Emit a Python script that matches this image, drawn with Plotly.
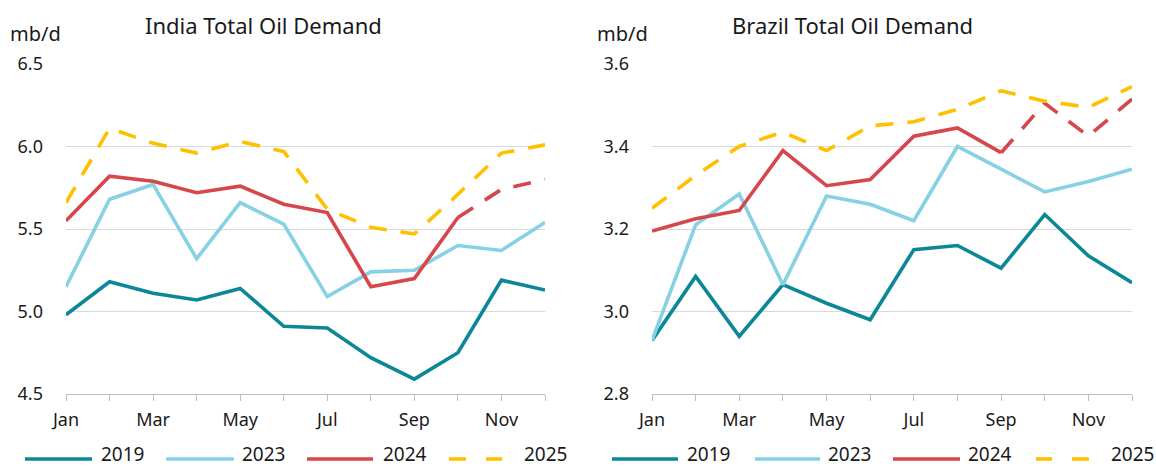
import plotly.graph_objects as go

W, H = 1156, 468

months = ["Jan", "Feb", "Mar", "Apr", "May", "Jun", "Jul", "Aug", "Sep", "Oct", "Nov", "Dec"]
years = ["2019", "2023", "2024", "2025"]

india_2019 = [4.98, 5.18, 5.11, 5.07, 5.14, 4.91, 4.90, 4.72, 4.59, 4.75, 5.19, 5.13]
india_2023 = [5.15, 5.68, 5.77, 5.32, 5.66, 5.53, 5.09, 5.24, 5.25, 5.40, 5.37, 5.54]
india_2024 = [5.55, 5.82, 5.79, 5.72, 5.76, 5.65, 5.60, 5.15, 5.20, 5.57, 5.74, 5.80]
india_2025 = [5.66, 6.11, 6.02, 5.96, 6.03, 5.97, 5.62, 5.51, 5.47, 5.71, 5.96, 6.01]
india_2024_dash_from = 9  # index of first forecast month (Oct)

brazil_2019 = [2.93, 3.085, 2.94, 3.065, 3.02, 2.98, 3.15, 3.16, 3.105, 3.235, 3.135, 3.07]
brazil_2023 = [2.93, 3.21, 3.285, 3.065, 3.28, 3.26, 3.22, 3.40, 3.345, 3.29, 3.315, 3.345]
brazil_2024 = [3.195, 3.225, 3.245, 3.39, 3.305, 3.32, 3.425, 3.445, 3.385, 3.505, 3.425, 3.515]
brazil_2025 = [3.25, 3.33, 3.40, 3.435, 3.39, 3.45, 3.46, 3.49, 3.535, 3.51, 3.495, 3.545]
brazil_2024_dash_from = 8  # Sep

india_yticks = [4.5, 5.0, 5.5, 6.0, 6.5]
brazil_yticks = [2.8, 3.0, 3.2, 3.4, 3.6]

titles = ["India Total Oil Demand", "Brazil Total Oil Demand"]
unit = "mb/d"

colors = {"2019": "#0B8797", "2023": "#86D1E4", "2024": "#D6474B", "2025": "#FFC000"}
FONT = "Noto Sans"
TXT = "#1a1a1a"
DASH = "18px,14px"
LW = 3.6

x_idx = list(range(len(months)))
tickvals = x_idx
ticktext = [m if i % 2 == 0 else "" for i, m in enumerate(months)]


def px(x):
    return x / W


def py(y):
    return 1 - y / H


fig = go.Figure()


def add_panel(n, s2019, s2023, s2024, s2025, dash_from):
    xa = "x" if n == 1 else "x2"
    ya = "y" if n == 1 else "y2"
    fig.add_trace(go.Scatter(x=x_idx, y=s2019, mode="lines", line=dict(color=colors["2019"], width=LW),
                             xaxis=xa, yaxis=ya, showlegend=False))
    fig.add_trace(go.Scatter(x=x_idx, y=s2023, mode="lines", line=dict(color=colors["2023"], width=LW),
                             xaxis=xa, yaxis=ya, showlegend=False))
    solid = [v if i <= dash_from else None for i, v in enumerate(s2024)]
    dashed = [v if i >= dash_from else None for i, v in enumerate(s2024)]
    fig.add_trace(go.Scatter(x=x_idx, y=solid, mode="lines", line=dict(color=colors["2024"], width=LW),
                             xaxis=xa, yaxis=ya, showlegend=False))
    fig.add_trace(go.Scatter(x=x_idx, y=dashed, mode="lines",
                             line=dict(color=colors["2024"], width=LW, dash=DASH),
                             xaxis=xa, yaxis=ya, showlegend=False))
    fig.add_trace(go.Scatter(x=x_idx, y=s2025, mode="lines",
                             line=dict(color=colors["2025"], width=LW, dash=DASH),
                             xaxis=xa, yaxis=ya, showlegend=False))


add_panel(1, india_2019, india_2023, india_2024, india_2025, india_2024_dash_from)
add_panel(2, brazil_2019, brazil_2023, brazil_2024, brazil_2025, brazil_2024_dash_from)

xcommon = dict(range=[0, 11], tickvals=tickvals, ticktext=ticktext, ticks="outside", ticklen=6,
               tickcolor="#BFBFBF", tickwidth=1, showline=True, linecolor="#BFBFBF", linewidth=1,
               showgrid=False, zeroline=False, tickfont=dict(family=FONT, size=18, color=TXT),
               ticklabelstandoff=3, fixedrange=True, automargin=False)
ycommon = dict(showgrid=True, gridcolor="#D9D9D9", gridwidth=1, zeroline=False, showline=False,
               ticks="", tickfont=dict(family=FONT, size=18, color=TXT), ticklabelstandoff=22,
               tickformat=".1f", fixedrange=True, automargin=False)

ydom = [py(394), py(64)]
fig.update_layout(
    width=W, height=H, margin=dict(l=0, r=0, t=0, b=0, autoexpand=False),
    paper_bgcolor="white", plot_bgcolor="white", showlegend=False,
    xaxis=dict(domain=[px(66), px(545)], anchor="y", **xcommon),
    yaxis=dict(domain=ydom, anchor="x", range=[india_yticks[0], india_yticks[-1]], tickvals=india_yticks, **ycommon),
    xaxis2=dict(domain=[px(652), px(1132)], anchor="y2", **xcommon),
    yaxis2=dict(domain=ydom, anchor="x2", range=[brazil_yticks[0], brazil_yticks[-1]], tickvals=brazil_yticks, **ycommon),
)

annotations = []
shapes = []
# titles and unit labels
for cx, title in zip([263, 852], titles):
    annotations.append(dict(x=px(cx), y=py(25), xref="paper", yref="paper", text=title, showarrow=False,
                            xanchor="center", yanchor="middle", font=dict(family=FONT, size=22, color=TXT)))
for cx in [35, 622]:
    annotations.append(dict(x=px(cx), y=py(34), xref="paper", yref="paper", text=unit, showarrow=False,
                            xanchor="center", yanchor="middle", font=dict(family=FONT, size=20, color=TXT)))

# custom legends (one under each panel)
legend_y = 459
legend_layout = [
    [[(25, 92)], [(166, 234)], [(307, 373)], [(449, 466), (486, 502)]],
    [[(612, 678)], [(755, 820)], [(893, 960)], [(1036, 1052), (1072, 1089)]],
]
legend_text_x = [[100, 241, 382, 523], [686, 827, 967, 1110]]
for panel, txs in zip(legend_layout, legend_text_x):
    for yr, segs, tx in zip(years, panel, txs):
        for a, b in segs:
            shapes.append(dict(type="line", xref="paper", yref="paper", x0=px(a), x1=px(b),
                               y0=py(legend_y), y1=py(legend_y),
                               line=dict(color=colors[yr], width=LW)))
        annotations.append(dict(x=px(tx), y=py(H), xref="paper", yref="paper", text=yr,
                                showarrow=False, xanchor="left", yanchor="bottom", borderpad=0,
                                font=dict(family=FONT, size=19, color=TXT)))

fig.update_layout(annotations=annotations, shapes=shapes)
fig.write_html("out.html", config={"displayModeBar": False},
               post_script="document.body.style.margin='0';document.body.style.overflow='hidden';")
